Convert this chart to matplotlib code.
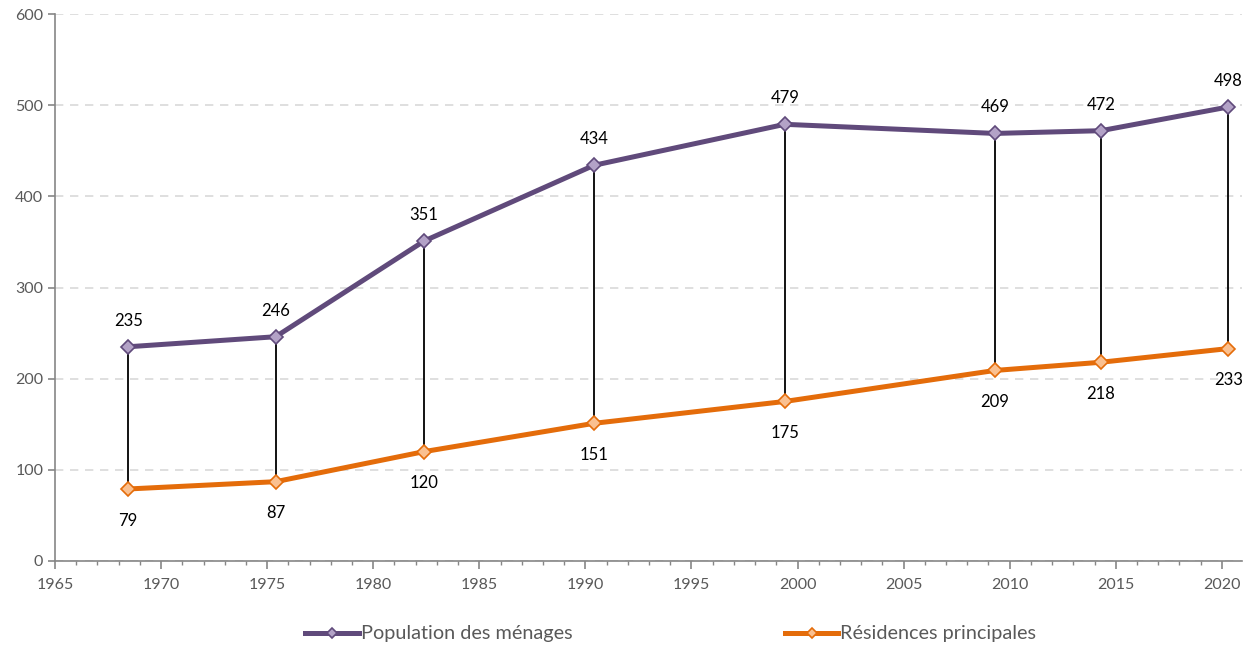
import matplotlib.pyplot as plt
from matplotlib.ticker import MultipleLocator

# census dates (fractional years, read from the x positions)
years = [1968.45, 1975.4, 1982.4, 1990.4, 1999.4, 2009.3, 2014.3, 2020.3]
population = [235, 246, 351, 434, 479, 469, 472, 498]
residences = [79, 87, 120, 151, 175, 209, 218, 233]
series_names = ["Population des ménages", "Résidences principales"]

purple = "#604A7B"
purple_fill = "#B3A2C7"
orange = "#E46C0A"
orange_fill = "#FAC090"
grey = "#595959"

plt.rcParams['font.family'] = ['Lato', 'DejaVu Sans']

fig = plt.figure(figsize=(12.56, 6.5), dpi=100)
ax = fig.add_axes([55 / 1256, 1 - 561 / 650, (1242 - 55) / 1256, (561 - 14) / 650])

# high-low lines
ax.vlines(years, residences, population, color="black", lw=1.3, zorder=2)

ax.plot(years, population, color=purple, lw=3.6, marker="D", ms=7,
        mfc=purple_fill, mec=purple, mew=1.2, label=series_names[0], zorder=3)
ax.plot(years, residences, color=orange, lw=3.6, marker="D", ms=7,
        mfc=orange_fill, mec=orange, mew=1.2, label=series_names[1], zorder=3)

for x, p, r in zip(years, population, residences):
    ax.annotate(str(p), (x, p), xytext=(0, 13), textcoords="offset points",
                ha="center", va="bottom", fontsize=12, color="black")
    ax.annotate(str(r), (x, r), xytext=(0, -17), textcoords="offset points",
                ha="center", va="top", fontsize=12, color="black")

ax.set_xlim(1965, 2020.95)
ax.set_ylim(0, 600)
ax.xaxis.set_major_locator(MultipleLocator(5))
ax.xaxis.set_minor_locator(MultipleLocator(1))
ax.yaxis.set_major_locator(MultipleLocator(100))

ax.grid(axis="y", color="#D9D9D9", ls=(0, (5, 4)), lw=1.2)
ax.set_axisbelow(True)
for s in ["top", "right"]:
    ax.spines[s].set_visible(False)
for s in ["left", "bottom"]:
    ax.spines[s].set_color("#868686")
    ax.spines[s].set_linewidth(1.2)

ax.tick_params(axis="x", which="major", length=6, width=1.2, color="#868686",
               labelsize=11.5, labelcolor=grey, pad=6)
ax.tick_params(axis="x", which="minor", length=3, width=1, color="#868686")
ax.tick_params(axis="y", length=5, width=1.2, color="#868686",
               labelsize=11.5, labelcolor=grey)

leg = fig.legend(loc="center", bbox_to_anchor=(0.534, 1 - 634 / 650), ncol=2,
                 frameon=False, fontsize=14.3, handlelength=2.7, handletextpad=0.1,
                 columnspacing=10.7, markerscale=0.8)
for t in leg.get_texts():
    t.set_color(grey)

fig.savefig("out.png", dpi=100)
